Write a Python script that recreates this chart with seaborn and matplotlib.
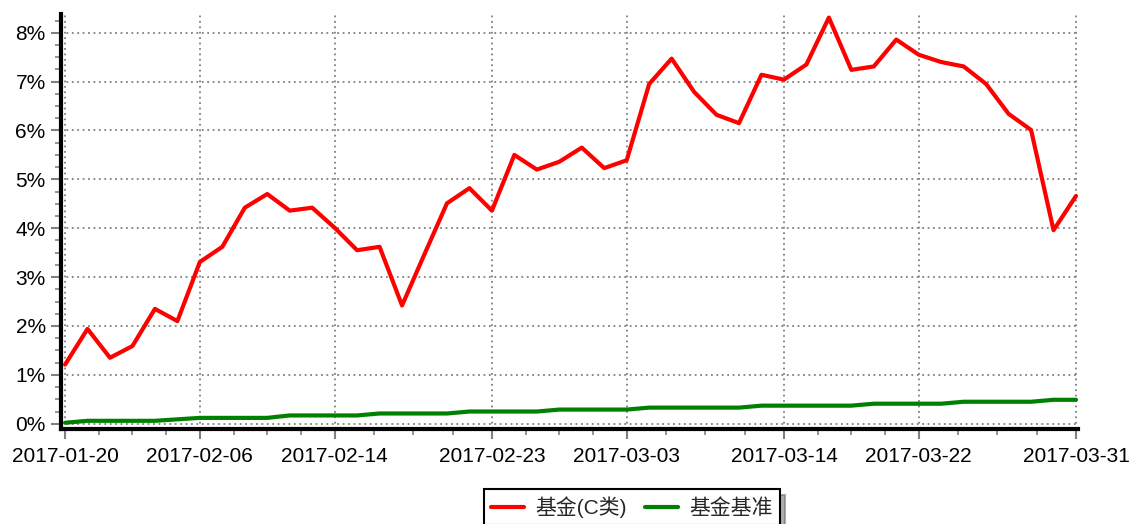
import numpy as np
import pandas as pd
import matplotlib
matplotlib.use('Agg')
import matplotlib.pyplot as plt
from matplotlib.ticker import FixedLocator, AutoMinorLocator, PercentFormatter
import seaborn as sns

# trading days, 2017-01-20 .. 2017-03-31
dates = ['2017-01-20', '2017-01-23', '2017-01-24', '2017-01-25', '2017-01-26',
         '2017-02-03', '2017-02-06', '2017-02-07', '2017-02-08', '2017-02-09',
         '2017-02-10', '2017-02-13', '2017-02-14', '2017-02-15', '2017-02-16',
         '2017-02-17', '2017-02-20', '2017-02-21', '2017-02-22', '2017-02-23',
         '2017-02-24', '2017-02-27', '2017-02-28', '2017-03-01', '2017-03-02',
         '2017-03-03', '2017-03-06', '2017-03-07', '2017-03-08', '2017-03-09',
         '2017-03-10', '2017-03-13', '2017-03-14', '2017-03-15', '2017-03-16',
         '2017-03-17', '2017-03-20', '2017-03-21', '2017-03-22', '2017-03-23',
         '2017-03-24', '2017-03-27', '2017-03-28', '2017-03-29', '2017-03-30',
         '2017-03-31']

# cumulative return, %
fund_c = [1.21, 1.94, 1.35, 1.59, 2.35, 2.10, 3.31, 3.62, 4.42, 4.70,
          4.36, 4.42, 4.01, 3.55, 3.62, 2.42, 3.47, 4.51, 4.82, 4.36,
          5.50, 5.20, 5.36, 5.65, 5.23, 5.39, 6.95, 7.47, 6.79, 6.32,
          6.15, 7.14, 7.04, 7.35, 8.31, 7.24, 7.31, 7.86, 7.55, 7.40,
          7.31, 6.95, 6.34, 6.01, 3.96, 4.66]
benchmark = [0.02, 0.06, 0.06, 0.06, 0.06, 0.09, 0.12, 0.12, 0.12, 0.12,
             0.17, 0.17, 0.17, 0.17, 0.21, 0.21, 0.21, 0.21, 0.25, 0.25,
             0.25, 0.25, 0.29, 0.29, 0.29, 0.29, 0.33, 0.33, 0.33, 0.33,
             0.33, 0.37, 0.37, 0.37, 0.37, 0.37, 0.41, 0.41, 0.41, 0.41,
             0.45, 0.45, 0.45, 0.45, 0.49, 0.49]

tick_dates = ['2017-01-20', '2017-02-06', '2017-02-14', '2017-02-23',
              '2017-03-03', '2017-03-14', '2017-03-22', '2017-03-31']
series_names = ['基金(C类)', '基金基准']
colors = ['#ff0000', '#008000']

sns.set_style('white')
plt.rcParams['font.family'] = ['Liberation Sans', 'Noto Sans CJK SC', 'DejaVu Sans']

df = pd.DataFrame({'idx': np.arange(len(dates)), 'date': dates,
                   series_names[0]: fund_c, series_names[1]: benchmark})
long = df.melt(id_vars=['idx', 'date'], var_name='series', value_name='ret')

fig = plt.figure(figsize=(11.3, 5.24), dpi=100)
ax = fig.add_axes([0.054, 0.182, 0.900, 0.791])

sns.lineplot(data=long, x='idx', y='ret', hue='series', hue_order=series_names,
             palette=colors, linewidth=3, ax=ax, legend=False)

# axes limits
ax.set_xlim(-0.18, len(dates) - 1 + 0.09)
ax.set_ylim(-0.1, 8.38)

# x ticks: chosen dates, 3 minor ticks between each pair
major_pos = [dates.index(d) for d in tick_dates]
minor_pos = []
for a, b in zip(major_pos[:-1], major_pos[1:]):
    minor_pos += list(np.linspace(a, b, 5)[1:-1])
ax.xaxis.set_major_locator(FixedLocator(major_pos))
ax.xaxis.set_minor_locator(FixedLocator(minor_pos))
ax.set_xticklabels(tick_dates)

ax.yaxis.set_major_locator(FixedLocator(list(range(0, 9))))
ax.yaxis.set_minor_locator(AutoMinorLocator(4))
ax.yaxis.set_major_formatter(PercentFormatter(xmax=100, decimals=0))

ax.tick_params(axis='both', which='major', labelsize=15, color='#808080',
               length=7, width=1.5, direction='out', labelcolor='black')
ax.tick_params(axis='both', which='minor', color='#808080', length=4, width=1.2)
ax.tick_params(axis='x', which='major', pad=6)
ax.tick_params(axis='y', which='major', pad=4)
ax.tick_params(axis='x', which='both', bottom=True)
ax.tick_params(axis='y', which='both', left=True)

ax.grid(True, which='major', color='#808080', linestyle=(0, (1, 2)), linewidth=1.3)
ax.set_axisbelow(True)

for s in ['top', 'right']:
    ax.spines[s].set_visible(False)
for s in ['left', 'bottom']:
    ax.spines[s].set_color('black')
    ax.spines[s].set_linewidth(3)

ax.set_xlabel('')
ax.set_ylabel('')

# legend below the plot, bottom edge runs off the figure
handles = [plt.Line2D([], [], color=c, linewidth=3) for c in colors]
leg = fig.legend(handles, series_names, loc='center', ncol=2,
                 bbox_to_anchor=(0.559, 0.032), bbox_transform=fig.transFigure,
                 fontsize=15, frameon=True, fancybox=False,
                 shadow={'color': '#606060', 'ox': 4, 'oy': -4},
                 handlelength=1.6, handletextpad=0.5, columnspacing=0.9,
                 borderpad=0.35, borderaxespad=0)
leg.get_frame().set_edgecolor('black')
leg.get_frame().set_linewidth(1.5)

fig.savefig('out.png', dpi=100)
